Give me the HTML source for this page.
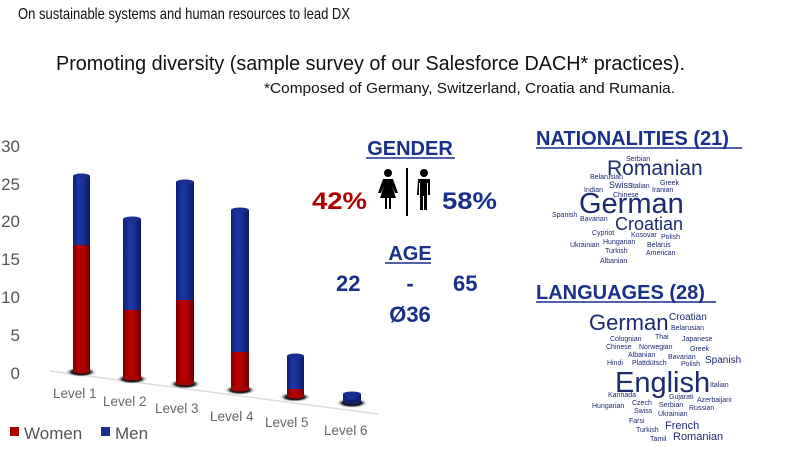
<!DOCTYPE html>
<html><head><meta charset="utf-8"><style>
html,body{margin:0;padding:0;background:#fff;width:800px;height:452px;overflow:hidden}
svg{display:block}
</style></head><body>
<svg width="800" height="452" viewBox="0 0 800 452" xmlns="http://www.w3.org/2000/svg" font-family="Liberation Sans, sans-serif">
<defs>
<linearGradient id="r" x1="0" x2="1"><stop offset="0" stop-color="#7a0000"/><stop offset="0.35" stop-color="#c00000"/><stop offset="0.6" stop-color="#b00000"/><stop offset="1" stop-color="#6a0000"/></linearGradient>
<linearGradient id="b" x1="0" x2="1"><stop offset="0" stop-color="#0c1f70"/><stop offset="0.35" stop-color="#1c37a8"/><stop offset="0.6" stop-color="#18309a"/><stop offset="1" stop-color="#0a1a60"/></linearGradient>
<radialGradient id="sh"><stop offset="0" stop-color="#000"/><stop offset="0.6" stop-color="#222"/><stop offset="1" stop-color="#fff" stop-opacity="0"/></radialGradient>
</defs>
<text x="18" y="19" font-size="16" textLength="332" lengthAdjust="spacingAndGlyphs" fill="#111">On sustainable systems and human resources to lead DX</text>
<text x="56" y="70" font-size="20" textLength="629" lengthAdjust="spacingAndGlyphs" fill="#111">Promoting diversity (sample survey of our Salesforce DACH* practices).</text>
<text x="264" y="93" font-size="14.5" textLength="411" lengthAdjust="spacingAndGlyphs" fill="#111">*Composed of Germany, Switzerland, Croatia and Rumania.</text>

<g font-size="17" fill="#555" text-anchor="end">
<text x="20" y="152">30</text><text x="20" y="190">25</text><text x="20" y="227">20</text>
<text x="20" y="265">15</text><text x="20" y="303">10</text><text x="20" y="341">5</text><text x="20" y="379">0</text>
</g>
<line x1="50" y1="371" x2="378" y2="414" stroke="#ddd" stroke-width="1.5"/>

<g>
<ellipse cx="81" cy="372" rx="16" ry="5" fill="url(#sh)"/>
<rect x="73" y="245" width="17" height="126" fill="url(#r)"/><ellipse cx="81.5" cy="371" rx="8.5" ry="2.5" fill="#a00"/>
<rect x="73" y="176" width="17" height="69" fill="url(#b)"/><ellipse cx="81.5" cy="176" rx="8.5" ry="2.5" fill="#1a2f90"/>

<ellipse cx="132" cy="379" rx="16" ry="5" fill="url(#sh)"/>
<rect x="123" y="310" width="18" height="68" fill="url(#r)"/><ellipse cx="132" cy="378" rx="9" ry="2.5" fill="#a00"/>
<rect x="123" y="219" width="18" height="91" fill="url(#b)"/><ellipse cx="132" cy="219" rx="9" ry="2.5" fill="#1a2f90"/>

<ellipse cx="185" cy="384" rx="16" ry="5" fill="url(#sh)"/>
<rect x="176" y="300" width="18" height="83" fill="url(#r)"/><ellipse cx="185" cy="383" rx="9" ry="2.5" fill="#a00"/>
<rect x="176" y="182" width="18" height="118" fill="url(#b)"/><ellipse cx="185" cy="182" rx="9" ry="2.5" fill="#1a2f90"/>

<ellipse cx="240" cy="390" rx="16" ry="5" fill="url(#sh)"/>
<rect x="231" y="352" width="18" height="37" fill="url(#r)"/><ellipse cx="240" cy="389" rx="9" ry="2.5" fill="#a00"/>
<rect x="231" y="210" width="18" height="142" fill="url(#b)"/><ellipse cx="240" cy="210" rx="9" ry="2.5" fill="#1a2f90"/>

<ellipse cx="295" cy="397" rx="16" ry="5" fill="url(#sh)"/>
<rect x="287" y="389" width="17" height="7" fill="url(#r)"/><ellipse cx="295.5" cy="396" rx="8.5" ry="2.5" fill="#a00"/>
<rect x="287" y="356" width="17" height="33" fill="url(#b)"/><ellipse cx="295.5" cy="356" rx="8.5" ry="2.5" fill="#1a2f90"/>

<ellipse cx="352" cy="403" rx="16" ry="5" fill="url(#sh)"/>
<rect x="343" y="394" width="18" height="8" fill="url(#b)"/><ellipse cx="352" cy="402" rx="9" ry="2.5" fill="#0f2070"/><ellipse cx="352" cy="394" rx="9" ry="2.5" fill="#1a2f90"/>
</g>

<g font-size="13.5" fill="#666">
<text x="53" y="398">Level 1</text><text x="103" y="406">Level 2</text><text x="155" y="413">Level 3</text>
<text x="210" y="421">Level 4</text><text x="265" y="427">Level 5</text><text x="324" y="435">Level 6</text>
</g>
<rect x="10" y="427" width="9" height="9" fill="#b00000"/>
<text x="24" y="439" font-size="17" fill="#555">Women</text>
<rect x="101" y="427" width="9" height="9" fill="#1a2f90"/>
<text x="115" y="439" font-size="17" fill="#555">Men</text>

<g font-weight="bold" fill="#1a2f8a">
<text x="410" y="155" font-size="20" text-anchor="middle">GENDER</text>
<line x1="366" y1="158" x2="455" y2="158" stroke="#1a2f8a" stroke-width="1.5"/>
<text x="312" y="209" font-size="24" fill="#b00000" textLength="55" lengthAdjust="spacingAndGlyphs">42%</text>
<text x="442" y="209" font-size="24" textLength="55" lengthAdjust="spacingAndGlyphs">58%</text>
<text x="410" y="260" font-size="20" text-anchor="middle">AGE</text>
<line x1="385" y1="263" x2="431" y2="263" stroke="#1a2f8a" stroke-width="1.5"/>
<text x="336" y="291" font-size="22">22</text>
<text x="410" y="291" font-size="22" text-anchor="middle">-</text>
<text x="453" y="291" font-size="22">65</text>
<text x="410" y="322" font-size="22" text-anchor="middle">Ø36</text>
</g>
<g fill="#000">
<circle cx="388" cy="173" r="4"/><path d="M383 179h10l5 14h-3l-3-7 4 12h-5v11h-2v-11h-2v11h-2v-11h-5l4-12-3 7h-3z"/>
<rect x="406" y="168" width="2" height="48"/>
<circle cx="424" cy="173" r="4"/><path d="M418 179h12v16h-2v-12h-1v27h-3v-14h-1v14h-3v-27h-1v12h-2z"/>
</g>

<text x="536" y="145" font-size="20" font-weight="bold" fill="#1a2f8a">NATIONALITIES (21)</text>
<line x1="536" y1="148" x2="742" y2="148" stroke="#1a2f8a" stroke-width="1.5"/>
<g fill="#1c2a6e" font-size="7">
<text x="626" y="161">Serbian</text>
<text x="607" y="175" font-size="21">Romanian</text>
<text x="590" y="179">Belarusian</text>
<text x="609" y="188" font-size="9">Swiss</text><text x="631" y="188">Italian</text><text x="660" y="185">Greek</text>
<text x="584" y="192">Indian</text><text x="652" y="192">Iranian</text>
<text x="613" y="197">Chinese</text>
<text x="579" y="213" font-size="29">German</text>
<text x="552" y="217">Spanish</text><text x="580" y="221">Bavarian</text>
<text x="615" y="230" font-size="18">Croatian</text>
<text x="592" y="235">Cypriot</text><text x="631" y="237">Kosovar</text><text x="661" y="239">Polish</text>
<text x="603" y="244">Hungarian</text><text x="570" y="247">Ukrainian</text><text x="647" y="247">Belarus</text>
<text x="605" y="253">Turkish</text><text x="646" y="255">American</text>
<text x="600" y="263">Albanian</text>
</g>

<text x="536" y="299" font-size="20" font-weight="bold" fill="#1a2f8a">LANGUAGES (28)</text>
<line x1="536" y1="302" x2="716" y2="302" stroke="#1a2f8a" stroke-width="1.5"/>
<g fill="#1c2a6e" font-size="7">
<text x="589" y="330" font-size="22">German</text>
<text x="669" y="320" font-size="10">Croatian</text>
<text x="671" y="330">Belarusian</text>
<text x="610" y="341">Colognian</text><text x="655" y="339">Thai</text><text x="682" y="341">Japanese</text>
<text x="606" y="349">Chinese</text><text x="639" y="349">Norwegian</text><text x="690" y="351">Greek</text>
<text x="628" y="357">Albanian</text><text x="668" y="359">Bavarian</text><text x="705" y="363" font-size="10">Spanish</text>
<text x="607" y="365">Hindi</text><text x="632" y="365">Plattdütsch</text><text x="681" y="366">Polish</text>
<text x="615" y="392" font-size="29">English</text>
<text x="710" y="387">Italian</text>
<text x="608" y="397">Kannada</text><text x="669" y="399">Gujarati</text><text x="697" y="402">Azerbaijani</text>
<text x="592" y="408">Hungarian</text><text x="632" y="405">Czech</text><text x="659" y="407">Serbian</text><text x="689" y="410">Russian</text>
<text x="634" y="413">Swiss</text><text x="658" y="416">Ukrainian</text>
<text x="629" y="423">Farsi</text>
<text x="665" y="429" font-size="11">French</text>
<text x="636" y="432">Turkish</text>
<text x="673" y="440" font-size="11">Romanian</text>
<text x="650" y="441">Tamil</text>
</g>
</svg>
</body></html>
